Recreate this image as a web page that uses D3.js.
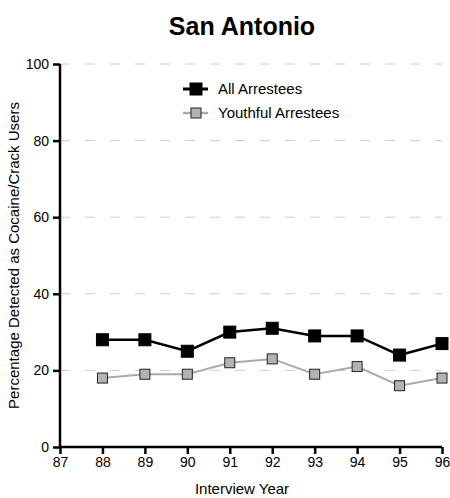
<!DOCTYPE html>
<html><head><meta charset="utf-8">
<script src="https://cdn.jsdelivr.net/npm/d3@7"></script>
<style>body{margin:0;background:#fff}svg{font-family:"Liberation Sans",Arial,sans-serif}</style>
</head><body><svg id="c" width="450" height="498"></svg>
<script>
const years = [88, 89, 90, 91, 92, 93, 94, 95, 96];
const allArrestees = [28, 28, 25, 30, 31, 29, 29, 24, 27];
const youthfulArrestees = [18, 19, 19, 22, 23, 19, 21, 16, 18];
const xTicks = [87, 88, 89, 90, 91, 92, 93, 94, 95, 96];
const yTicks = [0, 20, 40, 60, 80, 100];
const seriesNames = ["All Arrestees", "Youthful Arrestees"];

const svg = d3.select("#c");
const x = d3.scaleLinear().domain([87, 96]).range([60, 442]);
const y = d3.scaleLinear().domain([0, 100]).range([447, 64]);

svg.append("text").attr("x", 242).attr("y", 35).attr("text-anchor", "middle")
  .attr("font-size", 25).attr("font-weight", "bold").text("San Antonio");

// grid
svg.append("g").selectAll("line").data(yTicks.filter(d => d > 0)).join("line")
  .attr("x1", x(87)).attr("x2", x(96)).attr("y1", d => y(d)).attr("y2", d => y(d))
  .attr("stroke", "#ccc").attr("stroke-width", 1).attr("stroke-dasharray", "10,15");

const yAxis = svg.append("g").attr("transform", `translate(${x(87)},0)`)
  .call(d3.axisLeft(y).tickValues(yTicks).tickSize(7).tickPadding(4));
const xAxis = svg.append("g").attr("transform", `translate(0,${y(0)})`)
  .call(d3.axisBottom(x).tickValues(xTicks).tickSize(7).tickPadding(3));
[yAxis, xAxis].forEach(a => {
  a.select(".domain").attr("stroke", "#000").attr("stroke-width", 2.5);
  a.selectAll(".tick line").attr("stroke", "#000").attr("stroke-width", 2.5);
  a.selectAll(".tick text").attr("font-size", 14).attr("fill", "#000")
    .attr("font-family", "Liberation Sans, Arial, sans-serif");
});
yAxis.select(".domain").attr("d", `M0,${y(100)}V${y(0)}`);
xAxis.select(".domain").attr("d", `M${x(87)},0H${x(96)}`);

svg.append("text").attr("x", 242).attr("y", 494).attr("text-anchor", "middle")
  .attr("font-size", 15).text("Interview Year");
svg.append("text").attr("transform", `translate(19,${(y(0)+y(100))/2}) rotate(-90)`)
  .attr("text-anchor", "middle").attr("font-size", 15).text("Percentage Detected as Cocaine/Crack Users");

const line = d3.line().x((d, i) => x(years[i])).y(d => y(d));
const styles = [
  {data: allArrestees, stroke: "#000", sw: 2.5, fill: "#000", size: 12, mstroke: "#000"},
  {data: youthfulArrestees, stroke: "#aaa", sw: 2, fill: "#b3b3b3", size: 10, mstroke: "#222"}
];
styles.slice().reverse().forEach(s => {
  svg.append("path").datum(s.data).attr("d", line).attr("fill", "none")
    .attr("stroke", s.stroke).attr("stroke-width", s.sw);
  svg.append("g").selectAll("rect").data(s.data).join("rect")
    .attr("x", (d, i) => x(years[i]) - s.size / 2).attr("y", d => y(d) - s.size / 2)
    .attr("width", s.size).attr("height", s.size).attr("fill", s.fill)
    .attr("stroke", s.mstroke).attr("stroke-width", 1);
});

// legend
const lg = svg.append("g");
seriesNames.forEach((name, i) => {
  const s = styles[i];
  const ly = 89 + i * 24;
  lg.append("line").attr("x1", 183).attr("x2", 208).attr("y1", ly).attr("y2", ly)
    .attr("stroke", s.stroke).attr("stroke-width", s.sw + 0.5);
  lg.append("rect").attr("x", 196 - s.size / 2).attr("y", ly - s.size / 2)
    .attr("width", s.size).attr("height", s.size).attr("fill", s.fill)
    .attr("stroke", s.mstroke).attr("stroke-width", 1);
  lg.append("text").attr("x", 218).attr("y", ly + 5).attr("font-size", 15).text(name);
});
</script></body></html>
